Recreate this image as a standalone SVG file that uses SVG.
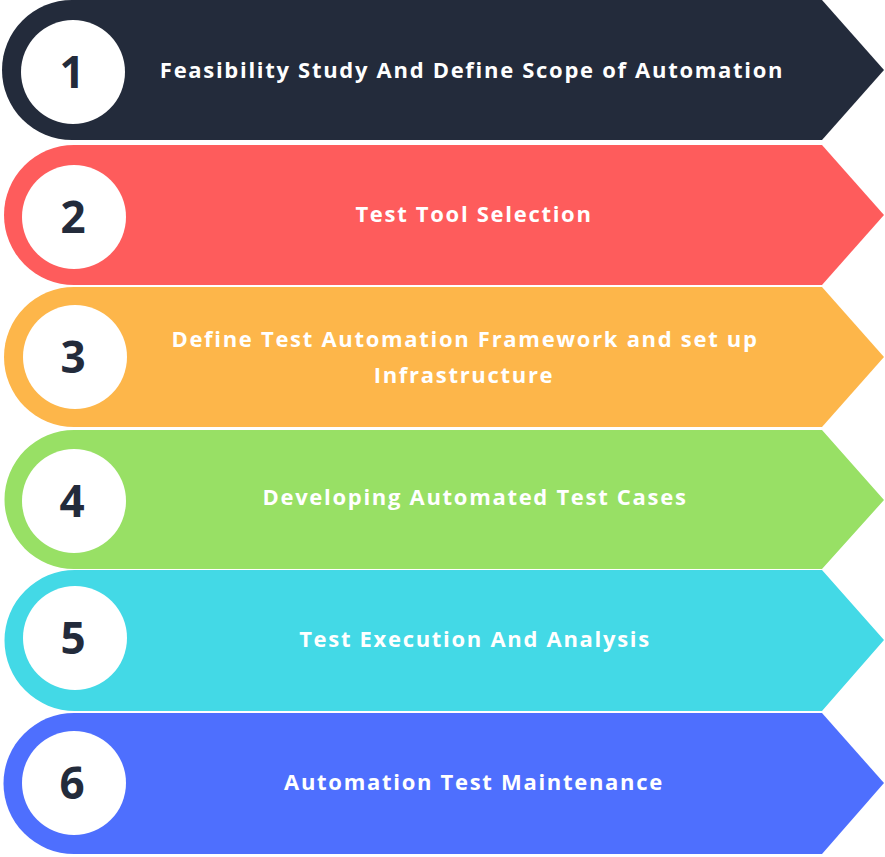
<svg xmlns="http://www.w3.org/2000/svg" width="885" height="857" viewBox="0 0 885 857">
<style>
.lbl{font-family:"Open Sans","Liberation Sans",sans-serif;font-weight:700;font-size:22px;fill:#ffffff;text-anchor:middle;letter-spacing:1.7px}
.num{font-family:"Open Sans","Liberation Sans",sans-serif;font-weight:700;font-size:44px;fill:#232b3b;text-anchor:middle}
.dot{fill:#ffffff}
</style>
<rect width="885" height="857" fill="#ffffff"/>
<g id="step1">
<path d="M72 0 H822 L884 70 L822 140 H72 A70 70 0 0 1 72 0 Z" fill="#232b3b"/>
<circle class="dot" cx="73" cy="72" r="52"/>
<text class="num" x="72" y="88">1</text>
<text class="lbl" x="472" y="78">Feasibility Study And Define Scope of Automation</text>
</g>
<g id="step2">
<path d="M74 145 H822 L884 215 L822 285 H74 A70 70 0 0 1 74 145 Z" fill="#fe5c5c"/>
<circle class="dot" cx="74" cy="217" r="52"/>
<text class="num" x="73" y="233">2</text>
<text class="lbl" x="474" y="222">Test Tool Selection</text>
</g>
<g id="step3">
<path d="M74 287 H822 L884 357 L822 427 H74 A70 70 0 0 1 74 287 Z" fill="#fdb64a"/>
<circle class="dot" cx="75" cy="357" r="52"/>
<text class="num" x="73" y="373">3</text>
<text class="lbl" x="465" y="347">Define Test Automation Framework and set up</text>
<text class="lbl" x="464" y="383">Infrastructure</text>
</g>
<g id="step4">
<path d="M74 430 H822 L884 500 L822 569 H74 A69.5 69.5 0 0 1 74 430 Z" fill="#98e065"/>
<circle class="dot" cx="74" cy="501" r="52"/>
<text class="num" x="72" y="517">4</text>
<text class="lbl" x="475" y="505">Developing Automated Test Cases</text>
</g>
<g id="step5">
<path d="M75 570 H822 L884 640 L822 711 H75 A70.5 70.5 0 0 1 75 570 Z" fill="#43d9e6"/>
<circle class="dot" cx="75" cy="638" r="52"/>
<text class="num" x="73" y="654">5</text>
<text class="lbl" x="475" y="647">Test Execution And Analysis</text>
</g>
<g id="step6">
<path d="M74 713 H822 L884 783 L822 854 H74 A70.5 70.5 0 0 1 74 713 Z" fill="#4e6ffe"/>
<circle class="dot" cx="74" cy="783" r="52"/>
<text class="num" x="72" y="799">6</text>
<text class="lbl" x="474" y="790">Automation Test Maintenance</text>
</g>
<g id="connectors"/>
</svg>
